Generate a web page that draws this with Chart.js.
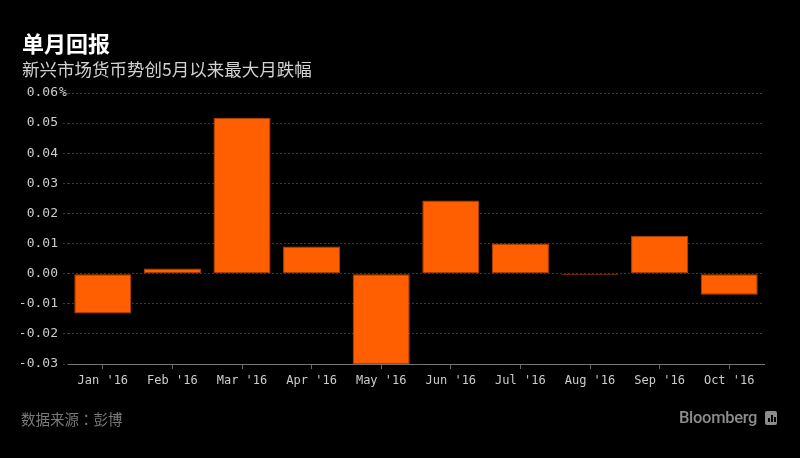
<!DOCTYPE html>
<html>
<head>
<meta charset="utf-8">
<script src="https://cdn.jsdelivr.net/npm/chart.js@4"></script>
<style>
  html, body { margin: 0; padding: 0; background: #000; }
  #wrap { position: relative; width: 800px; height: 458px; background: #000; overflow: hidden; }
  #chart { position: absolute; left: 0; top: 0; }
  .title { position: absolute; left: 22px; top: 31px; font: bold 22px/22px "Noto Sans CJK SC"; color: #fff; }
  .subtitle { position: absolute; left: 22px; top: 60px; font: 17.5px/18px "Noto Sans CJK SC"; color: #d2d2d2; }
  .source { position: absolute; left: 21px; top: 411px; font: 14.5px/16px "Noto Sans CJK SC"; color: #7a7a7a; }
  .source span { font-family: "Noto Sans CJK TC"; }
  .brand { position: absolute; left: 679px; top: 409px; font: 500 16.5px/18px Roboto; color: #8c8c8c; letter-spacing: -0.3px; }
  .icon { position: absolute; left: 765px; top: 411px; width: 12px; height: 14px; background: #8c8c8c; border-radius: 2px; }
  .icon i { position: absolute; bottom: 3px; width: 2px; background: #000; }
</style>
</head>
<body>
<div id="wrap">
  <canvas id="chart" width="800" height="458"></canvas>
  <div class="title">单月回报</div>
  <div class="subtitle">新兴市场货币势创5月以来最大月跌幅</div>
  <div class="source">数据来源<span>：</span>彭博</div>
  <div class="brand">Bloomberg</div>
  <div class="icon"><i style="left:3px;height:4px"></i><i style="left:6px;height:7px"></i><i style="left:9px;height:5px"></i></div>
</div>
<script>
  // monthly returns
  const months = ["Jan '16", "Feb '16", "Mar '16", "Apr '16", "May '16", "Jun '16", "Jul '16", "Aug '16", "Sep '16", "Oct '16"];
  const returns = [-0.0132, 0.0017, 0.0518, 0.0090, -0.0302, 0.0243, 0.0100, -0.0005, 0.0126, -0.0070];
  const yMin = -0.03;
  const yMax = 0.06;
  const yStep = 0.01;
  const yUnit = '%';

  const yFont = { family: 'DejaVu Sans Mono', size: 13 };
  const xFont = { family: 'DejaVu Sans Mono', size: 12 };

  // draw the "%" just after the top tick label, like the original
  const unitPlugin = {
    id: 'unitLabel',
    afterDraw(chart) {
      const y = chart.scales.y;
      const ctx = chart.ctx;
      ctx.save();
      ctx.font = '13px DejaVu Sans Mono';
      ctx.fillStyle = '#cccccc';
      ctx.textBaseline = 'middle';
      ctx.textAlign = 'left';
      ctx.fillText(yUnit, y.right - 9, y.getPixelForValue(yMax));
      ctx.restore();
    }
  };

  new Chart(document.getElementById('chart'), {
    type: 'bar',
    data: {
      labels: months,
      datasets: [{
        data: returns,
        backgroundColor: '#ff5f00',
        borderColor: '#b54300',
        borderWidth: 1,
        borderSkipped: false,
        categoryPercentage: 1,
        barPercentage: 0.82
      }]
    },
    options: {
      responsive: false,
      animation: false,
      layout: { padding: { left: 0, right: 36, top: 93, bottom: 64 } },
      plugins: { legend: { display: false }, tooltip: { enabled: false } },
      scales: {
        x: {
          grid: { offset: false, drawOnChartArea: false, drawTicks: true, tickLength: 5, color: '#666' },
          border: { display: true, color: '#777', width: 1 },
          ticks: { color: '#cccccc', font: xFont, padding: 5, maxRotation: 0, autoSkip: false },
          afterFit(scale) { scale.height = 30; }
        },
        y: {
          min: yMin,
          max: yMax,
          grid: {
            color: '#3a3a3a',
            lineWidth: 1,
            tickLength: 5,
            tickColor: '#3a3a3a',
            tickBorderDash: [2, 2]
          },
          border: { display: false, dash: [2, 2] },
          ticks: {
            stepSize: yStep,
            color: '#cccccc',
            font: yFont,
            padding: 5,
            callback: v => (Math.round(v * 100) / 100).toFixed(2)
          },
          afterFit(scale) { scale.width = 68; }
        }
      }
    },
    plugins: [unitPlugin]
  });
</script>
</body>
</html>
